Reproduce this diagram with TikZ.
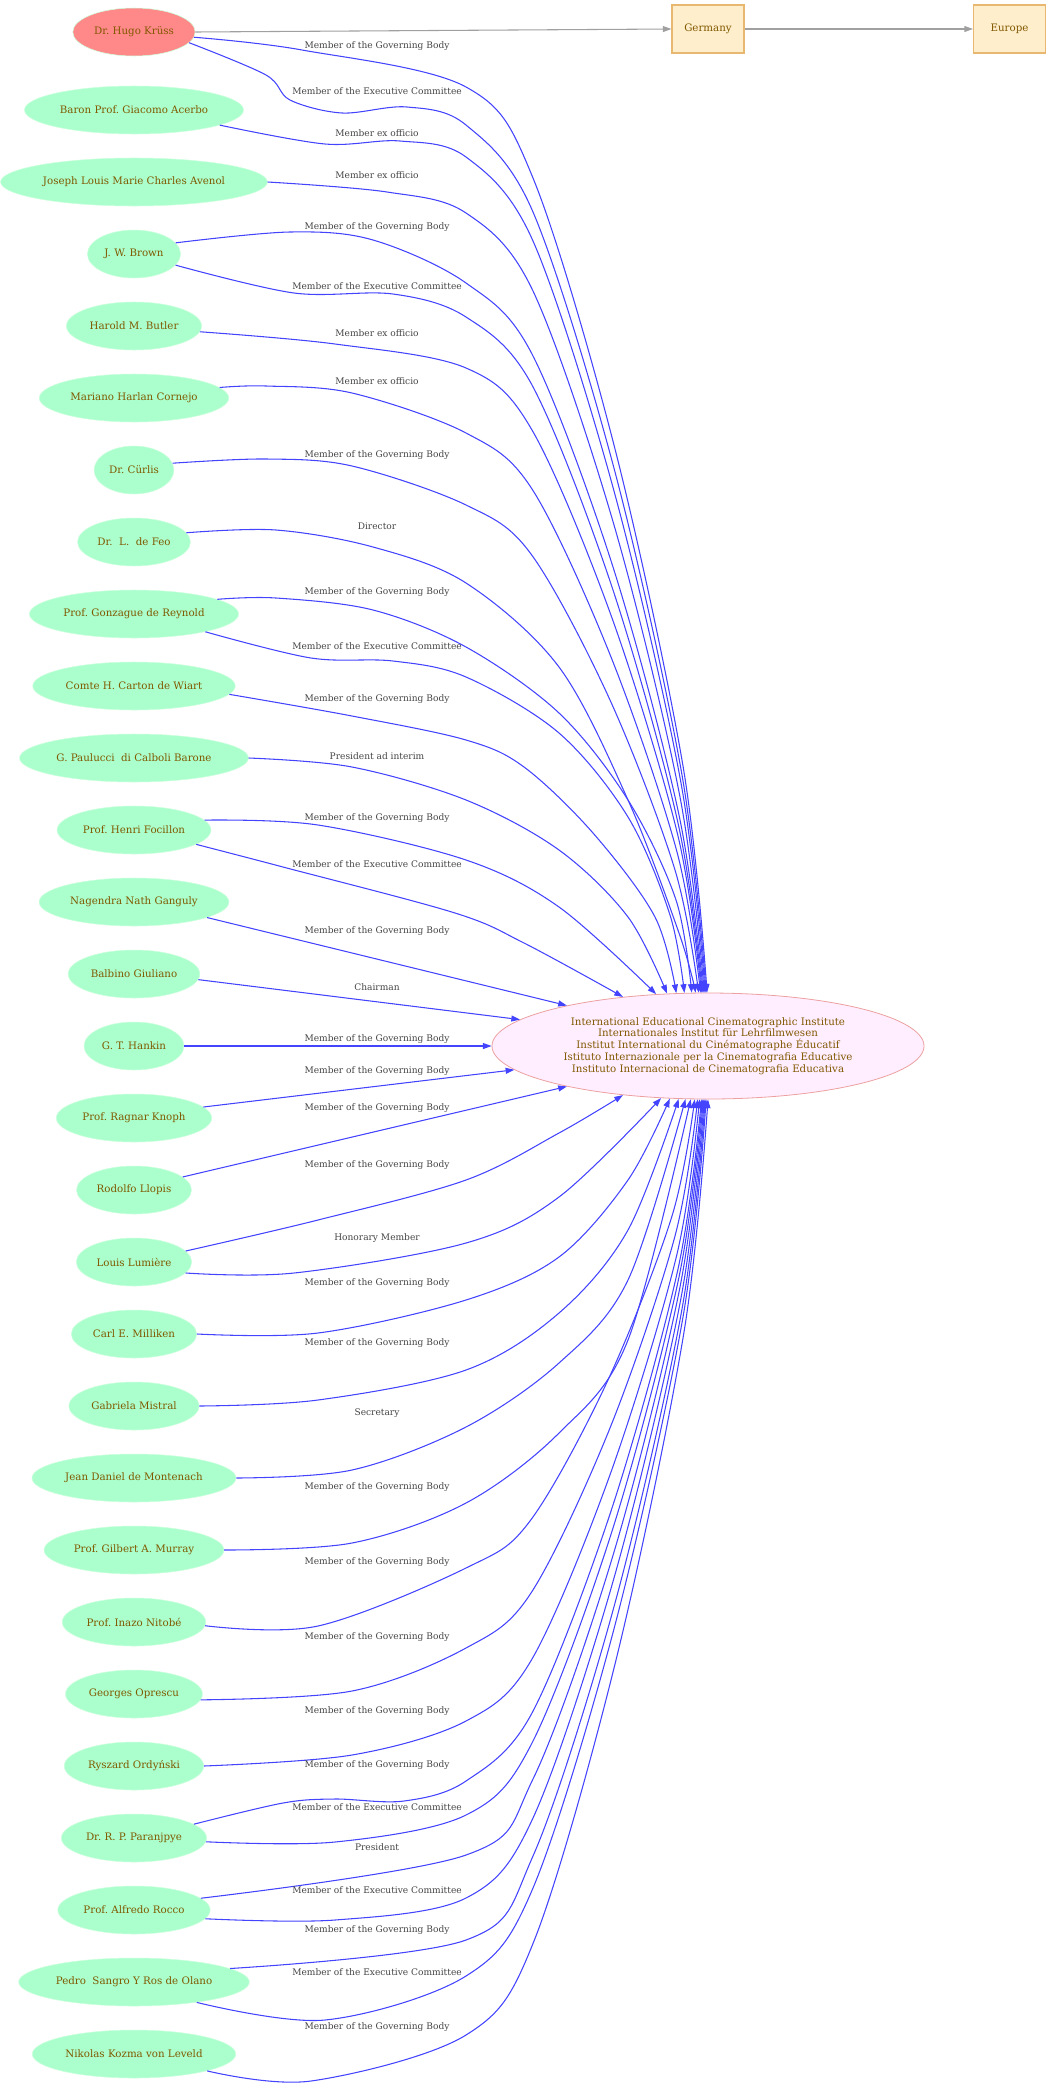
\documentclass[tikz,border=0pt]{standalone}
\usepackage{fontspec}
\setmainfont{DejaVu Serif}
\usepackage{xcolor}
\usepackage{tikz}
\usetikzlibrary{shapes,arrows.meta,positioning}
\frenchspacing

\definecolor{personfill}{RGB}{170,255,204}
\definecolor{personline}{RGB}{204,255,221}
\definecolor{leadfill}{RGB}{255,136,136}
\definecolor{nametext}{RGB}{128,88,0}
\definecolor{instfill}{RGB}{255,238,255}
\definecolor{instline}{RGB}{236,160,160}
\definecolor{placefill}{RGB}{255,238,204}
\definecolor{placeline}{RGB}{232,184,112}
\definecolor{relblue}{RGB}{68,68,255}
\definecolor{lbltext}{RGB}{68,68,68}
\definecolor{geogray}{RGB}{160,160,160}

\tikzset{
  person/.style={ellipse, fill=personfill, draw=personline, minimum height=36pt, inner xsep=2.5pt, inner ysep=0pt, text=nametext, font=\fontsize{7.7}{9}\selectfont},
  lead/.style={person, fill=leadfill},
  inst/.style={ellipse, fill=instfill, draw=instline, line width=0.6pt, minimum width=324pt, minimum height=79.5pt, align=center, text=nametext, font=\fontsize{7.7}{8.9}\selectfont},
  place/.style={rectangle, fill=placefill, draw=placeline, line width=0.8pt, minimum width=54pt, minimum height=36pt, text=nametext, font=\fontsize{7.7}{9}\selectfont},
  rel/.style={draw=relblue, line width=0.8pt, -{Triangle[length=6.5pt,width=4.5pt]}},
  geo/.style={draw=geogray, line width=0.8pt, -{Triangle[length=6.5pt,width=4.5pt]}},
  lbl/.style={text=lbltext, font=\fontsize{6.8}{8}\selectfont, inner sep=0pt}
}

\begin{document}
\begin{tikzpicture}[x=0.75pt, y=0.75pt]
    \useasboundingbox (0,0) rectangle (1051,-2088);

    % Institute and places
    \node [inst] (inst) at (708,-1046) {International Educational Cinematographic Institute\\Internationales Institut für Lehrfilmwesen\\Institut International du Cinématographe Éducatif\\Istituto Internazionale per la Cinematografia Educative\\Instituto Internacional de Cinematografia Educativa};
    \node [place] (germ) at (708,-29) {Germany};
    \node [place] (euro) at (1009.5,-29) {Europe};

    % People
    \node [lead] (krus) at (134,-32) {Dr. Hugo Krüss};
    \node [person] (acer) at (134,-110) {Baron Prof. Giacomo Acerbo};
    \node [person] (aven) at (134,-182) {Joseph Louis Marie Charles Avenol};
    \node [person] (brow) at (134,-254) {J. W. Brown};
    \node [person] (butl) at (134,-326) {Harold M. Butler};
    \node [person] (corn) at (134,-398) {Mariano Harlan Cornejo};
    \node [person] (curl) at (134,-470) {Dr. Cürlis};
    \node [person] (feo) at (134,-542) {Dr.~~L.~~de Feo};
    \node [person] (reyn) at (134,-614) {Prof. Gonzague de Reynold};
    \node [person] (cart) at (134,-686) {Comte H. Carton de Wiart};
    \node [person] (paul) at (134,-758) {G. Paulucci~~di Calboli Barone};
    \node [person] (foci) at (134,-830) {Prof. Henri Focillon};
    \node [person] (gang) at (134,-902) {Nagendra Nath Ganguly};
    \node [person] (giul) at (134,-974) {Balbino Giuliano};
    \node [person] (hank) at (134,-1046) {G. T. Hankin};
    \node [person] (knop) at (134,-1118) {Prof. Ragnar Knoph};
    \node [person] (llop) at (134,-1190) {Rodolfo Llopis};
    \node [person] (lumi) at (134,-1262) {Louis Lumière};
    \node [person] (mill) at (134,-1334) {Carl E. Milliken};
    \node [person] (mist) at (134,-1406) {Gabriela Mistral};
    \node [person] (mont) at (134,-1478) {Jean Daniel de Montenach};
    \node [person] (murr) at (134,-1550) {Prof. Gilbert A. Murray};
    \node [person] (nito) at (134,-1622) {Prof. Inazo Nitobé};
    \node [person] (opre) at (134,-1694) {Georges Oprescu};
    \node [person] (ordy) at (134,-1766) {Ryszard Ordyński};
    \node [person] (para) at (134,-1838) {Dr. R. P. Paranjpye};
    \node [person] (rocc) at (134,-1910) {Prof. Alfredo Rocco};
    \node [person] (sang) at (134,-1982) {Pedro~~Sangro Y Ros de Olano};
    \node [person] (leve) at (134,-2054) {Nikolas Kozma von Leveld};

    % Location chain
    \draw [geo] (krus.east) -- (germ.west);
    \draw [geo] (germ.east) -- (euro.west);

    % Edges into the top of the institute
    \draw [rel] plot[smooth, tension=0.55] coordinates {(krus.-5) (302,-50) (466,-87) (533,-178) (615,-449) (683,-766) (inst.91.1)};
    \draw [rel] plot[smooth, tension=0.55] coordinates {(krus.-11) (266,-75) (290,-100) (342,-113) (407,-107) (466,-125) (533,-212) (615,-472) (682,-775) (inst.92.2)};
    \draw [rel] plot[smooth, tension=0.55] coordinates {(acer.-10) (325,-144) (400,-141) (466,-157) (533,-241) (614,-491) (681,-783) (inst.93.2)};
    \draw [rel] plot[smooth, tension=0.55] coordinates {(aven.east) (387,-192) (466,-213) (533,-291) (614,-525) (680,-797) (inst.94.3)};
    \draw [rel] plot[smooth, tension=0.55] coordinates {(brow.15) (290,-232) (373,-240) (466,-283) (532,-354) (613,-567) (679,-815) (inst.95.4)};
    \draw [rel] plot[smooth, tension=0.55] coordinates {(brow.-15) (294,-293) (393,-294) (466,-317) (532,-385) (612,-587) (678,-823) (inst.96.5)};
    \draw [rel] plot[smooth, tension=0.55] coordinates {(butl.-5) (335,-344) (466,-368) (532,-430) (612,-618) (678,-836) (inst.97.5)};
    \draw [rel] plot[smooth, tension=0.55] coordinates {(corn.7) (266,-386) (352,-393) (466,-433) (532,-489) (611,-657) (677,-852) (inst.98.6)};
    \draw [rel] plot[smooth, tension=0.55] coordinates {(curl.10) (266,-459) (352,-466) (466,-505) (531,-554) (610,-700) (675,-870) (inst.100.7)};
    \draw [rel] plot[smooth, tension=0.55] coordinates {(feo.10) (276,-530) (373,-547) (466,-583) (559,-667) (628,-800) (679,-933) (inst.103.8)};
    \draw [rel] plot[smooth, tension=0.55] coordinates {(reyn.10) (276,-598) (373,-610) (466,-647) (559,-713) (628,-800) (676,-900) (inst.107.8)};
    \draw [rel] plot[smooth, tension=0.55] coordinates {(reyn.-14) (311,-658) (393,-661) (466,-677) (559,-733) (628,-817) (670,-915) (inst.114.5)};
    \draw [rel] plot[smooth, tension=0.55] coordinates {(cart.-5) (352,-716) (466,-740) (524,-767) (593,-833) (655,-917) (inst.121.4)};
    \draw [rel] plot[smooth, tension=0.55] coordinates {(paul.east) (352,-767) (466,-800) (559,-850) (628,-917) (inst.128.9)};
    \draw [rel] plot[smooth, tension=0.55] coordinates {(foci.8) (318,-825) (466,-860) (559,-907) (inst.135.9)};
    \draw [rel] plot[smooth, tension=0.55] coordinates {(foci.-13) (283,-867) (455,-913) (524,-943) (inst.150.9)};
    \draw [rel] (gang.-12) -- (inst.164.1);
    \draw [rel] (giul.-5) -- (inst.172.8);
    \draw [rel] (hank.east) -- (inst.west);

    % Edges into the bottom of the institute
    \draw [rel] (knop.9) -- (inst.187.2);
    \draw [rel] (llop.15) -- (inst.196.3);
    \draw [rel] plot[smooth, tension=0.55] coordinates {(lumi.12) (318,-1220) (466,-1180) (559,-1133) (inst.210.2)};
    \draw [rel] plot[smooth, tension=0.55] coordinates {(lumi.-12) (294,-1273) (466,-1243) (559,-1197) (inst.228.4)};
    \draw [rel] plot[smooth, tension=0.55] coordinates {(mill.east) (318,-1333) (466,-1300) (559,-1257) (628,-1180) (inst.234.7)};
    \draw [rel] plot[smooth, tension=0.55] coordinates {(mist.east) (318,-1400) (466,-1370) (559,-1313) (628,-1230) (inst.241.1)};
    \draw [rel] plot[smooth, tension=0.55] coordinates {(mont.east) (352,-1470) (466,-1427) (559,-1363) (628,-1280) (inst.247.3)};
    \draw [rel] plot[smooth, tension=0.55] coordinates {(murr.east) (352,-1543) (466,-1503) (559,-1433) (628,-1340) (inst.252.1)};
    \draw [rel] plot[smooth, tension=0.55] coordinates {(nito.-3) (318,-1626) (466,-1568) (530,-1521) (608,-1380) (672,-1216) (inst.256.2)};
    \draw [rel] plot[smooth, tension=0.55] coordinates {(opre.-5) (352,-1691) (466,-1648) (531,-1593) (610,-1428) (675,-1236) (inst.259.3)};
    \draw [rel] plot[smooth, tension=0.55] coordinates {(ordy.east) (352,-1755) (466,-1721) (532,-1659) (611,-1472) (677,-1254) (inst.261.4)};
    \draw [rel] plot[smooth, tension=0.55] coordinates {(para.13) (283,-1803) (335,-1799) (404,-1801) (466,-1781) (532,-1713) (612,-1508) (678,-1269) (inst.263.5)};
    \draw [rel] plot[smooth, tension=0.55] coordinates {(para.-3) (335,-1842) (466,-1815) (532,-1743) (613,-1528) (679,-1277) (inst.264.6)};
    \draw [rel] plot[smooth, tension=0.55] coordinates {(rocc.10) (466,-1855) (533,-1779) (614,-1552) (680,-1287) (inst.265.7)};
    \draw [rel] plot[smooth, tension=0.55] coordinates {(rocc.-7) (335,-1920) (466,-1898) (533,-1818) (614,-1578) (681,-1298) (inst.266.8)};
    \draw [rel] plot[smooth, tension=0.55] coordinates {(sang.8) (466,-1940) (533,-1856) (615,-1603) (682,-1309) (inst.267.8)};
    \draw [rel] plot[smooth, tension=0.55] coordinates {(sang.-18) (325,-2020) (466,-1976) (533,-1888) (615,-1625) (683,-1317) (inst.268.9)};
    \draw [rel] plot[smooth, tension=0.55] coordinates {(leve.-13) (311,-2081) (466,-2035) (534,-1941) (616,-1660) (684,-1332) (inst.270)};

    % Edge labels
    \node [lbl] (lkrus1) at (377,-45.7) {Member of the Governing Body};
    \node [lbl] (lkrus2) at (377,-91) {Member of the Executive Committee};
    \node [lbl] (lacer) at (377,-133) {Member ex officio};
    \node [lbl] (laven) at (377,-175) {Member ex officio};
    \node [lbl] (lbrow1) at (377,-227) {Member of the Governing Body};
    \node [lbl] (lbrow2) at (377,-286) {Member of the Executive Committee};
    \node [lbl] (lbutl) at (377,-333) {Member ex officio};
    \node [lbl] (lcorn) at (377,-381) {Member ex officio};
    \node [lbl] (lcurl) at (377,-455) {Member of the Governing Body};
    \node [lbl] (lfeo) at (377,-526) {Director};
    \node [lbl] (lreyn1) at (377,-592) {Member of the Governing Body};
    \node [lbl] (lreyn2) at (377,-646) {Member of the Executive Committee};
    \node [lbl] (lcart) at (377,-699) {Member of the Governing Body};
    \node [lbl] (lpaul) at (377,-756) {President ad interim};
    \node [lbl] (lfoci1) at (377,-818) {Member of the Governing Body};
    \node [lbl] (lfoci2) at (377,-864) {Member of the Executive Committee};
    \node [lbl] (lgang) at (377,-931) {Member of the Governing Body};
    \node [lbl] (lgiul) at (377,-987) {Chairman};
    \node [lbl] (lhank) at (377,-1039) {Member of the Governing Body};
    \node [lbl] (lknop) at (377,-1071) {Member of the Governing Body};
    \node [lbl] (lllop) at (377,-1108) {Member of the Governing Body};
    \node [lbl] (llumi1) at (377,-1165) {Member of the Governing Body};
    \node [lbl] (llumi2) at (377,-1238) {Honorary Member};
    \node [lbl] (lmill) at (377,-1283) {Member of the Governing Body};
    \node [lbl] (lmist) at (377,-1343) {Member of the Governing Body};
    \node [lbl] (lmont) at (377,-1413) {Secretary};
    \node [lbl] (lmurr) at (377,-1487) {Member of the Governing Body};
    \node [lbl] (lnito) at (377,-1562) {Member of the Governing Body};
    \node [lbl] (lopre) at (377,-1637) {Member of the Governing Body};
    \node [lbl] (lordy) at (377,-1711) {Member of the Governing Body};
    \node [lbl] (lpara1) at (377,-1765) {Member of the Governing Body};
    \node [lbl] (lpara2) at (377,-1807) {Member of the Executive Committee};
    \node [lbl] (lrocc1) at (377,-1847) {President};
    \node [lbl] (lrocc2) at (377,-1890) {Member of the Executive Committee};
    \node [lbl] (lsang1) at (377,-1930) {Member of the Governing Body};
    \node [lbl] (lsang2) at (377,-1972) {Member of the Executive Committee};
    \node [lbl] (lleve) at (377,-2027) {Member of the Governing Body};
\end{tikzpicture}
\end{document}
